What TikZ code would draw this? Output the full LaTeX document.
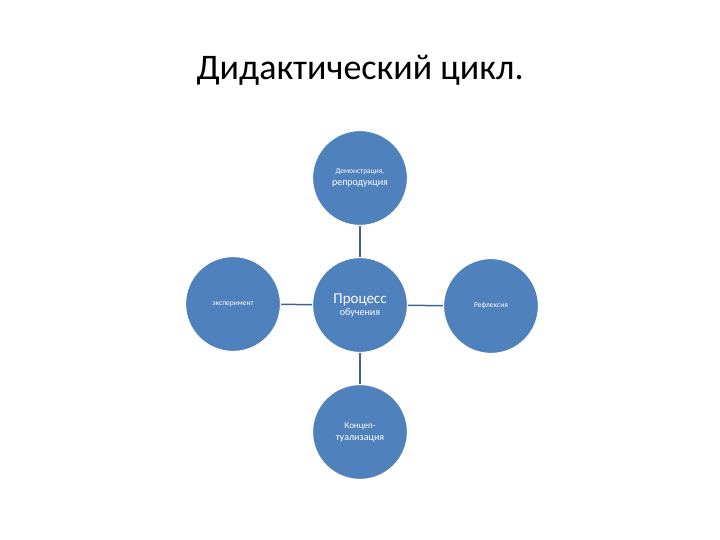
\documentclass[tikz,border=0pt]{standalone}
\usepackage{fontspec}
\setmainfont{Carlito}
\begin{document}
\begin{tikzpicture}[x=1pt,y=-1pt,
  circ/.style={circle,fill=blueA,draw=white,line width=1.2pt,minimum size=95pt,inner sep=0pt,text=white,align=center},
  conn/.style={draw=lineA,line width=1.5pt}]
\definecolor{blueA}{HTML}{4F81BD}
\definecolor{lineA}{HTML}{3E6592}
\useasboundingbox (0,0) rectangle (720,540);
\node (title) at (360,70) {\fontsize{36}{40}\selectfont Дидактический цикл.};
\node[circ] (top) at (360,178) {\fontsize{7.5}{9}\selectfont Демонстрация,\\ репродукция};
\node[circ] (c) at (360,305) {\fontsize{15}{18}\selectfont Процесс\\ обучения};
\node[circ] (l) at (233,304) {\fontsize{7.5}{9}\selectfont эксперимент};
\node[circ] (r) at (491,306) {\fontsize{7.5}{9}\selectfont Рефлексия};
\node[circ] (b) at (360,432) {\fontsize{9}{11}\selectfont Концеп-\\ туализация};
\draw[conn] (top) -- (c);
\draw[conn] (l) -- (c);
\draw[conn] (c) -- (r);
\draw[conn] (c) -- (b);
\end{tikzpicture}
\end{document}
